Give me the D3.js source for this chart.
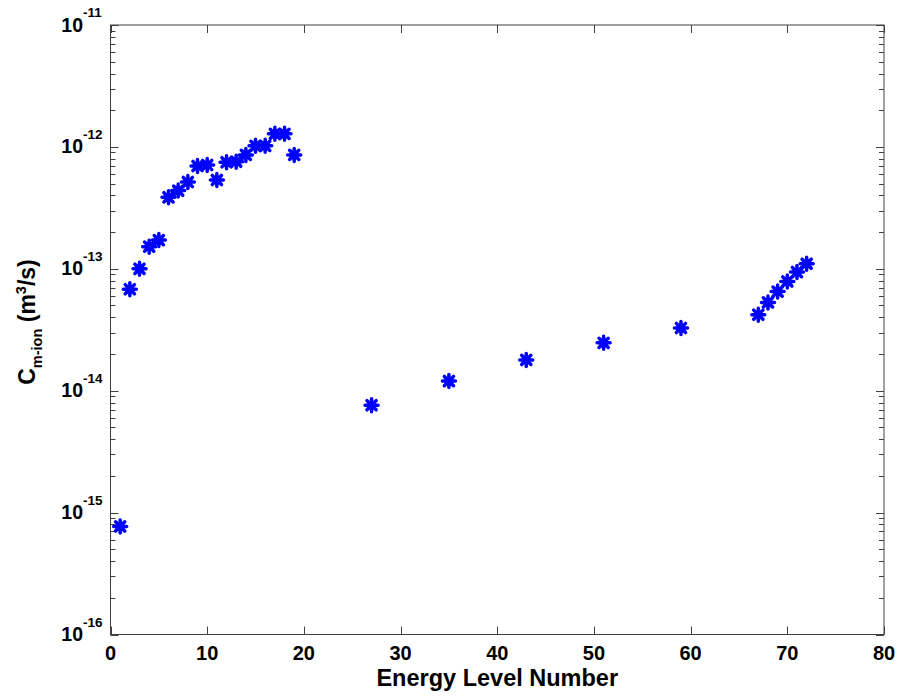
<!DOCTYPE html>
<html><head><meta charset="utf-8">
<script src="https://cdn.jsdelivr.net/npm/d3@7"></script>
<style>body{margin:0;background:#fff}svg{display:block}text{font-family:"Liberation Sans",Arial,sans-serif;font-weight:bold;fill:#000}</style>
</head><body>
<script>
const levels = [1,2,3,4,5,6,7,8,9,10,11,12,13,14,15,16,17,18,19,27,35,43,51,59,67,68,69,70,71,72];
const rates = [7.7e-16,6.8e-14,1.0e-13,1.52e-13,1.72e-13,3.86e-13,4.38e-13,5.15e-13,6.97e-13,7.1e-13,5.35e-13,7.48e-13,7.56e-13,8.6e-13,1.02e-12,1.02e-12,1.28e-12,1.28e-12,8.6e-13,7.6e-15,1.2e-14,1.79e-14,2.47e-14,3.27e-14,4.2e-14,5.3e-14,6.5e-14,7.87e-14,9.4e-14,1.1e-13];
const xTicks = [0,10,20,30,40,50,60,70,80];
const yExponents = [-16,-15,-14,-13,-12,-11];

const W = 901, H = 696;
const L = 110.5, R = 884, T = 25, B = 634.5;
const svg = d3.select("body").append("svg").attr("width", W).attr("height", H);
const x = d3.scaleLinear().domain([0,80]).range([L,R]);
const y = d3.scaleLog().domain([1e-16,1e-11]).range([B,T]);

const axisColor = "#404040";
svg.append("rect").attr("x",L).attr("y",T).attr("width",R-L).attr("height",B-T)
  .attr("fill","none").attr("stroke",axisColor).attr("stroke-width",1);

const g = svg.append("g").attr("stroke",axisColor).attr("stroke-width",1);
xTicks.forEach(v => {
  const px = Math.round(x(v))+0.5;
  g.append("line").attr("x1",px).attr("x2",px).attr("y1",B).attr("y2",B-8);
  g.append("line").attr("x1",px).attr("x2",px).attr("y1",T).attr("y2",T+8);
  svg.append("text").attr("x",x(v)).attr("y",B+25.5).attr("text-anchor","middle")
    .attr("font-size",20).text(v);
});
yExponents.forEach((e,i) => {
  const py = Math.round(y(Math.pow(10,e)))+0.5;
  g.append("line").attr("x1",L).attr("x2",L+8).attr("y1",py).attr("y2",py);
  g.append("line").attr("x1",R).attr("x2",R-8).attr("y1",py).attr("y2",py);
  if (i < yExponents.length-1) {
    for (let m=2;m<=9;m++){
      const my = Math.round(y(m*Math.pow(10,e)))+0.5;
      g.append("line").attr("x1",L).attr("x2",L+5).attr("y1",my).attr("y2",my);
      g.append("line").attr("x1",R).attr("x2",R-5).attr("y1",my).attr("y2",my);
    }
  }
  svg.append("text").attr("x",83).attr("y",y(Math.pow(10,e))+6.5).attr("text-anchor","end")
    .attr("font-size",19.5).text("10");
  svg.append("text").attr("x",83).attr("y",y(Math.pow(10,e))-8).attr("text-anchor","start")
    .attr("font-size",13.5).text(String(e));
});

svg.append("text").attr("x",(L+R)/2).attr("y",686).attr("text-anchor","middle")
  .attr("font-size",23.5).text("Energy Level Number");
const yl = svg.append("text").attr("transform","translate(35,322) rotate(-90)")
  .attr("text-anchor","middle").attr("font-size",23);
yl.append("tspan").text("C");
yl.append("tspan").attr("font-size",14.5).attr("dy",7).text("m-ion");
yl.append("tspan").attr("dy",-7).text(" (m");
yl.append("tspan").attr("font-size",14.5).attr("dy",-9).text("3");
yl.append("tspan").attr("dy",9).text("/s)");

const star = { draw(ctx, size){ const r = Math.sqrt(size)/2; const d = r*Math.SQRT1_2;
  ctx.moveTo(0,-r); ctx.lineTo(0,r); ctx.moveTo(-r,0); ctx.lineTo(r,0);
  ctx.moveTo(-d,-d); ctx.lineTo(d,d); ctx.moveTo(-d,d); ctx.lineTo(d,-d); } };
const sym = d3.symbol().type(star).size(13*13);
svg.append("g").selectAll("path").data(levels.map((l,i)=>[l,rates[i]])).join("path")
  .attr("d", sym).attr("transform", d => `translate(${x(d[0])},${y(d[1])})`)
  .attr("fill","none").attr("stroke","#0000ff").attr("stroke-width",3.5).attr("stroke-linecap","round");
</script>
</body></html>
